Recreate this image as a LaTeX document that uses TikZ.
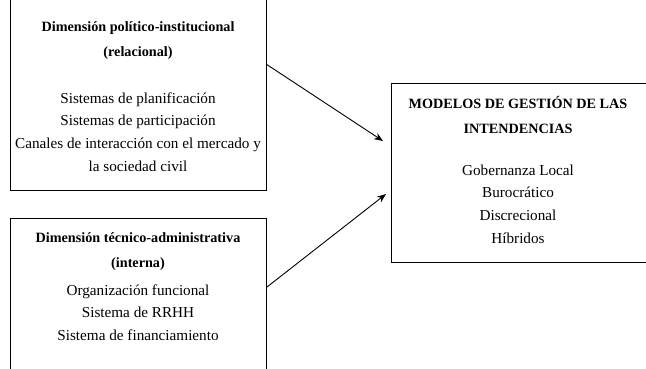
\documentclass[tikz,border=0pt]{standalone}
\usepackage{fontspec}
\setmainfont{Liberation Serif}
\usetikzlibrary{arrows.meta}
\begin{document}
\begin{tikzpicture}[x=1pt, y=-1pt,
    caja/.style={draw, line width=0.9pt, inner sep=0pt},
    titulo/.style={font=\bfseries\fontsize{14.2}{25}\selectfont, align=center},
    texto/.style={font=\fontsize{15.2}{22.7}\selectfont, align=center},
    flecha/.style={-{Stealth[length=9pt, width=7pt]}, line width=0.9pt}]
        \useasboundingbox (0, 0) rectangle (646, 368);

        % cajas
        \node[caja, minimum width=256pt, minimum height=200pt] (dimpol) at (138, 90) {};
        \node[caja, minimum width=256pt, minimum height=160pt] (dimtec) at (138, 298) {};
        \node[caja, minimum width=258pt, minimum height=179pt] (modelos) at (520, 172.5) {};

        \node[titulo] (tpol) at (138, 40.5) {Dimensión político-institucional\\(relacional)};
        \node[texto] (bpol) at (138, 132) {Sistemas de planificación\\Sistemas de participación\\Canales de interacción con el mercado y\\la sociedad civil};

        \node[titulo] (ttec) at (138, 251.5) {Dimensión técnico-administrativa\\(interna)};
        \node[texto] (btec) at (138, 312.5) {Organización funcional\\Sistema de RRHH\\Sistema de financiamiento};

        \node[titulo] (tmod) at (518, 114.5) {MODELOS DE GESTIÓN DE LAS\\INTENDENCIAS};
        \node[texto] (bmod) at (518, 204) {Gobernanza Local\\Burocrático\\Discrecional\\Híbridos};

        % flechas
        \coordinate (s1) at (266, 64);
        \coordinate (e1) at (383, 141);
        \coordinate (s2) at (267, 287);
        \coordinate (e2) at (386, 194);
        \draw[flecha] (s1) -- (e1);
        \draw[flecha] (s2) -- (e2);

    \end{tikzpicture}
\end{document}
